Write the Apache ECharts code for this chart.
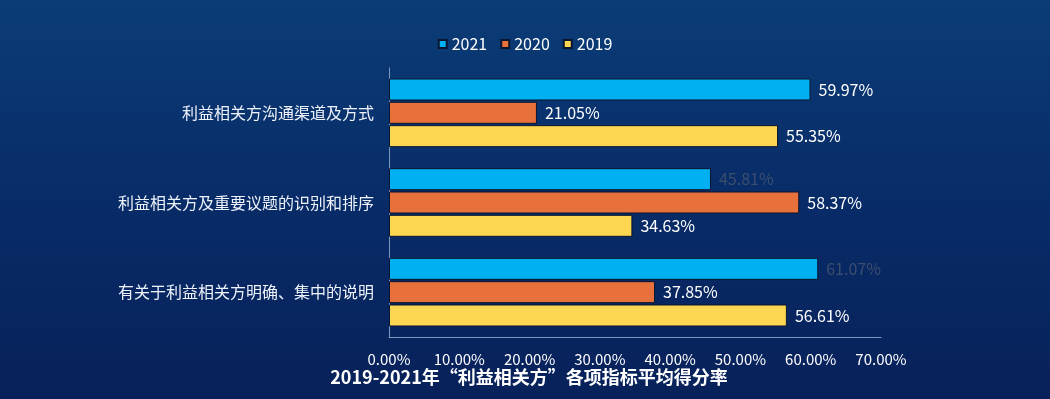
<!DOCTYPE html>
<html>
<head>
<meta charset="utf-8">
<script src="https://cdn.jsdelivr.net/npm/echarts@6/dist/echarts.min.js"></script>
<style>
html,body{margin:0;padding:0;width:1050px;height:399px;overflow:hidden;}
#c{width:1050px;height:399px;}
</style>
</head>
<body>
<div id="c"></div>
<script>
const categories = ['利益相关方沟通渠道及方式', '利益相关方及重要议题的识别和排序', '有关于利益相关方明确、集中的说明'];
const seriesNames = ['2021', '2020', '2019'];
const values2021 = [59.97, 45.81, 61.07];
const values2020 = [21.05, 58.37, 37.85];
const values2019 = [55.35, 34.63, 56.61];
const xTicks = [0, 10, 20, 30, 40, 50, 60, 70];
const titleText = '2019-2021年“利益相关方”各项指标平均得分率';

const colors = ['#00b0f0', '#e8703a', '#fdd652'];
const dataSets = [values2021, values2020, values2019];
const FONT = '"Noto Sans CJK SC", "Noto Sans", sans-serif';

const chart = echarts.init(document.getElementById('c'));
const series = seriesNames.map((name, i) => ({
  name: name,
  type: 'bar',
  barWidth: 22,
  barGap: '6%',
  data: dataSets[i].map((v, j) => {
    const dark = (i === 0 && j > 0);
    return {
      value: v,
      label: dark ? { color: 'rgba(70,85,110,0.85)' } : undefined
    };
  }),
  itemStyle: { color: colors[i], borderColor: '#0a1530', borderWidth: 1 },
  label: {
    show: true,
    position: 'right',
    distance: 8,
    color: '#ffffff',
    fontSize: 16,
    fontFamily: FONT,
    formatter: p => p.value.toFixed(2) + '%'
  }
}));

chart.setOption({
  backgroundColor: {
    type: 'linear', x: 0, y: 0, x2: 0, y2: 1,
    colorStops: [
      { offset: 0, color: '#0b3c76' },
      { offset: 0.5, color: '#082c68' },
      { offset: 1, color: '#08215a' }
    ]
  },
  textStyle: { fontFamily: FONT },
  title: {
    text: titleText,
    left: 524,
    textAlign: 'center',
    top: 363,
    textStyle: { color: '#ffffff', fontSize: 18, fontWeight: 'bold', fontFamily: FONT }
  },
  legend: {
    data: seriesNames,
    top: 31,
    left: 'center',
    itemWidth: 8,
    itemHeight: 8,
    itemGap: 13,
    icon: 'rect',
    textStyle: { color: '#ffffff', fontSize: 16, fontFamily: FONT }
  },
  grid: { left: 389, right: 169, top: 68, bottom: 62, containLabel: false },
  xAxis: {
    type: 'value',
    min: 0,
    max: 70,
    interval: 10,
    axisLine: { show: true, lineStyle: { color: '#7d96bd', width: 1 } },
    axisTick: { show: false },
    splitLine: { show: false },
    axisLabel: {
      color: '#ffffff',
      fontSize: 15,
      margin: 15,
      fontFamily: FONT,
      formatter: v => xTicks.includes(v) ? v.toFixed(2) + '%' : ''
    }
  },
  yAxis: {
    type: 'category',
    data: categories,
    inverse: true,
    axisLine: { show: true, lineStyle: { color: '#7d96bd', width: 1 } },
    axisTick: { show: false },
    axisLabel: { color: '#eef3fb', fontSize: 16, margin: 15, fontFamily: FONT }
  },
  series: series
});
</script>
</body>
</html>
